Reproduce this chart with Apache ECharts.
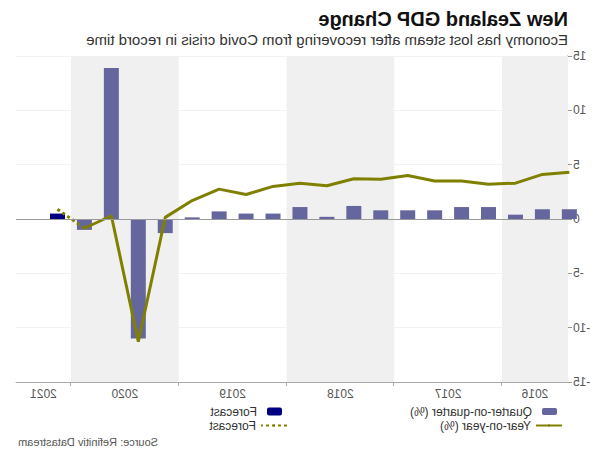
<!DOCTYPE html>
<html>
<head>
<meta charset="utf-8">
<script src="https://cdn.jsdelivr.net/npm/echarts@6/dist/echarts.min.js"></script>
<style>
html,body{margin:0;padding:0;background:#fff;}
#c{width:600px;height:450px;transform:scaleX(-1);}
</style>
</head>
<body>
<div id="c"></div>
<script>
// ---- data ----
const quarters = ['2016 Q2','2016 Q3','2016 Q4','2017 Q1','2017 Q2','2017 Q3','2017 Q4',
  '2018 Q1','2018 Q2','2018 Q3','2018 Q4','2019 Q1','2019 Q2','2019 Q3','2019 Q4',
  '2020 Q1','2020 Q2','2020 Q3','2020 Q4'];
const qoq = [0.9, 0.9, 0.4, 1.1, 1.1, 0.8, 0.8, 0.8, 1.2, 0.2, 1.1, 0.5, 0.5, 0.7, 0.15, -1.3, -11.0, 13.9, -1.0];
const yoy = [4.3, 4.1, 3.3, 3.2, 3.5, 3.5, 4.0, 3.65, 3.7, 3.06, 3.3, 3.0, 2.25, 2.75, 1.7, 0.15, -11.3, 0.3, -0.85];
const forecastQuarters = ['2020 Q4', '2021 Q1'];
const forecastQoq = [null, 0.5];
const forecastYoy = [-0.85, 0.9];
const yearLabels = ['2016', '2017', '2018', '2019', '2020', '2021'];
const shadedYears = ['2016', '2018', '2020'];
const yTicks = [-15, -10, -5, 0, 5, 10, 15];

// ---- helpers ----
const BASE = 2016;
function qPos(label) {
  const [y, q] = label.split(' Q');
  return (Number(y) - BASE) * 4 + Number(q) - 0.5;
}
const xMin = 1.55, xMax = 22.04;
function yearStart(y) { return (Number(y) - BASE) * 4; }
const tickVals = yearLabels.slice(1).map(yearStart);
const labelVals = yearLabels.map(y => {
  const a = Math.max(yearStart(y), xMin), b = Math.min(yearStart(y) + 4, xMax);
  return (a + b) / 2;
});
const bands = shadedYears.map(y => [
  { xAxis: Math.max(yearStart(y), xMin) },
  { xAxis: Math.min(yearStart(y) + 4, xMax) }
]);

const FONT = 'Liberation Sans, Arial, sans-serif';
const legendText = { fontSize: 12, lineHeight: 13, color: '#333' };
const chart = echarts.init(document.getElementById('c'), null, { renderer: 'svg' });
chart.setOption({
  animation: false,
  textStyle: { fontFamily: FONT },
  title: [
    { text: 'New Zealand GDP Change', left: 27, top: 4,
      textStyle: { fontSize: 20, fontWeight: 'bold', color: '#111', fontFamily: FONT } },
    { text: 'Economy has lost steam after recovering from Covid crisis in record time', left: 27, top: 27,
      textStyle: { fontSize: 15, fontWeight: 'normal', color: '#333', fontFamily: FONT } },
    { text: 'Source: Refinitiv Datastream', right: 13, top: 431,
      textStyle: { fontSize: 11, fontWeight: 'normal', color: '#555', fontFamily: FONT } }
  ],
  legend: [
    { data: ['Quarter-on-quarter (%)'], left: 43, top: 405, padding: [0, 0, 0, 0], itemWidth: 15, itemHeight: 7,
      textStyle: Object.assign({ padding: [0, 0, 0, 5] }, legendText), selectedMode: false },
    { data: ['Year-on-year (%)'], left: 37, top: 419, padding: [0, 0, 0, 0], itemWidth: 26, itemHeight: 3,
      textStyle: legendText, selectedMode: false },
    { data: ['Forecast'], left: 318, top: 405, padding: [0, 0, 0, 0], itemWidth: 15, itemHeight: 8,
      textStyle: Object.assign({ padding: [0, 0, 0, 5] }, legendText), selectedMode: false },
    { data: ['Forecast '], left: 312, top: 419, padding: [0, 0, 0, 0], itemWidth: 26, itemHeight: 3,
      formatter: n => n.trim(),
      textStyle: legendText, selectedMode: false }
  ],
  grid: { left: 32, right: 16, top: 56, bottom: 68, containLabel: false },
  xAxis: {
    type: 'value', min: xMin, max: xMax,
    axisLine: { show: true, onZero: false, lineStyle: { color: '#aaa', width: 1 } },
    axisTick: { show: true, customValues: tickVals, length: 4, lineStyle: { color: '#aaa' } },
    axisLabel: { customValues: labelVals, margin: 6, fontSize: 12, color: '#555',
      formatter: v => yearLabels[Math.floor(v / 4)] },
    splitLine: { show: false }
  },
  yAxis: {
    type: 'value', min: yTicks[0], max: yTicks[yTicks.length - 1], interval: 5,
    axisLine: { show: true, lineStyle: { color: '#999' } },
    axisTick: { show: true, length: 4, lineStyle: { color: '#999' } },
    axisLabel: { margin: 5, fontSize: 12, color: '#555' },
    splitLine: { show: true, lineStyle: { color: '#f2f2f2', width: 1 } }
  },
  series: [
    {
      name: 'Quarter-on-quarter (%)', type: 'bar', barWidth: 15, barGap: '-100%',
      itemStyle: { color: '#66669f' },
      data: quarters.map((q, i) => [qPos(q), qoq[i]]),
      markArea: { silent: true, itemStyle: { color: '#f0f0f0' }, data: bands },
      markLine: { silent: true, symbol: 'none', label: { show: false },
        lineStyle: { color: '#999', width: 1, type: 'solid' }, data: [{ yAxis: 0 }] },
      z: 2
    },
    {
      name: 'Forecast', type: 'bar', barWidth: 15, barGap: '-100%',
      itemStyle: { color: '#000080' },
      data: forecastQuarters.map((q, i) => [qPos(q), forecastQoq[i]]).filter(d => d[1] !== null),
      z: 2
    },
    {
      name: 'Year-on-year (%)', type: 'line', symbol: 'none',
      lineStyle: { color: '#808000', width: 3 }, itemStyle: { color: '#808000' },
      data: quarters.map((q, i) => [qPos(q), yoy[i]]),
      z: 3
    },
    {
      name: 'Forecast ', type: 'line', symbol: 'none',
      lineStyle: { color: '#808000', width: 3, type: [3, 3] }, itemStyle: { color: '#808000' },
      data: forecastQuarters.map((q, i) => [qPos(q), forecastYoy[i]]),
      z: 3
    }
  ]
});
</script>
</body>
</html>
